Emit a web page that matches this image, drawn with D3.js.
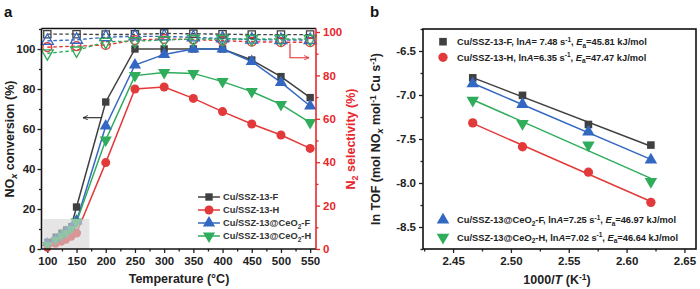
<!DOCTYPE html>
<html><head><meta charset="utf-8">
<script src="https://cdn.jsdelivr.net/npm/d3@7"></script>
<style>
body{margin:0;background:#fff}
svg{display:block}
text{font-family:"Liberation Sans",Arial,sans-serif;font-weight:bold}
</style>
</head><body><svg id="c" width="700" height="289"></svg>
<script>
// ---------- Panel a data ----------
const convTemps = [100,114,124,132,141,150,200,250,300,350,400,450,500,550];
const convF   = [3.7,6.2,8.2,9.8,11.5,21,73.5,100,100,100,100,94.5,86.2,75.7];
const convH   = [0.5,2.5,3.5,4.5,6,8,43.2,80,81,75.3,68.7,62.5,57,50.3];
const convCeF = [3,5,7,9,11,14,61.5,92,97.3,100,100,93.7,83.3,71.5];
const convCeH = [2,4.5,6.5,8,10,13.5,54.5,86.7,88.2,87.8,83.7,78.7,72.3,63.2];
const selTemps = [100,150,200,250,300,350,400,450,500,550];
const selF   = [99,99,98.8,98.9,99.3,99.2,99,98.8,98.8,98.8];
const selCeF = [95.9,96.4,97.6,98,98,97.5,97,96.5,96.3,96.3];
const selH   = [93,93.5,94,96.3,96.8,96.5,96,95.5,95.3,95.3];
const selCeH = [90.2,91.5,95.5,95.8,96.3,96.8,96.8,96.8,96.8,96.8];
const seriesNames = ["Cu/SSZ-13-F","Cu/SSZ-13-H","Cu/SSZ-13@CeO2-F","Cu/SSZ-13@CeO2-H"];
const tempTicks = [100,150,200,250,300,350,400,450,500,550];
const convTicks = [0,20,40,60,80,100];
const selTicks = [0,20,40,60,80,100];

// ---------- Panel b data ----------
const invT  = [2.467,2.510,2.567,2.621];
const lnF   = [-6.805,-7.004,-7.335,-7.569];
const lnH   = [-7.317,-7.588,-7.877,-8.220];
const lnCeF = [-6.872,-7.106,-7.419,-7.738];
const lnCeH = [-7.061,-7.324,-7.569,-7.983];
const lnAvals = ["7.48","6.35","7.25","7.02"];
const EaVals  = ["45.81","47.47","46.97","46.64"];
const invTTicks = [2.45,2.50,2.55,2.60,2.65];
const lnTicks = [-8.5,-8.0,-7.5,-7.0,-6.5];

const colors = ["#404040","#e23a3a","#3368c2","#2fac5c"];
const redAxis = "#e8272c";
const shapes = ["square","circle","tri","itri"];

const svg = d3.select("#c");

function sym(shape, size){
  if(shape==="square") return d3.symbol().type(d3.symbolSquare).size(size*0.85)();
  if(shape==="circle") return d3.symbol().type(d3.symbolCircle).size(size)();
  return d3.symbol().type(d3.symbolTriangle).size(size)();
}
function marker(g, shape, x, y, color, size, hollow){
  const p = g.append("path").attr("d", sym(shape,size))
    .attr("transform", `translate(${x},${y})` + (shape==="itri"?" rotate(180)":""));
  if(hollow) p.attr("fill","#fff").attr("fill-opacity",0).attr("stroke",color).attr("stroke-width",1.3);
  else p.attr("fill",color);
  return p;
}

// ================= Panel a =================
const aL=41.5, aR=316, aT=28.5, aB=249;
const xA = d3.scaleLinear().domain([90,560]).range([aL,aR]);
const yL = d3.scaleLinear().domain([0,110]).range([aB,29]);
const yR = d3.scaleLinear().domain([0,100]).range([aB,32]);

const pa = svg.append("g");
function styleAxis(g, color, fs){
  g.select(".domain").remove();
  g.selectAll("line").attr("stroke",color).attr("stroke-width",1.3);
  g.selectAll("text").attr("fill",color).style("font-size",fs+"px");
}
pa.append("g").attr("transform",`translate(0,${aB})`)
  .call(d3.axisBottom(xA).tickValues(tempTicks).tickSize(4).tickPadding(4))
  .call(g=>styleAxis(g,"#222",11.5));
pa.append("g").attr("transform",`translate(0,${aB})`)
  .call(d3.axisBottom(xA).tickValues(tempTicks.slice(0,-1).map(d=>d+25)).tickSize(2.5).tickFormat(""))
  .call(g=>styleAxis(g,"#222",11.5));
pa.append("g").attr("transform",`translate(${aL},0)`)
  .call(d3.axisLeft(yL).tickValues(convTicks).tickSize(4).tickPadding(2))
  .call(g=>styleAxis(g,"#222",11.5));
pa.append("g").attr("transform",`translate(${aL},0)`)
  .call(d3.axisLeft(yL).tickValues(convTicks.map(d=>d+10)).tickSize(2.5).tickFormat(""))
  .call(g=>styleAxis(g,"#222",11.5));
pa.append("g").attr("transform",`translate(${aR},0)`)
  .call(d3.axisRight(yR).tickValues(selTicks).tickSize(4).tickPadding(3))
  .call(g=>styleAxis(g,redAxis,11.5));
pa.append("g").attr("transform",`translate(${aR},0)`)
  .call(d3.axisRight(yR).tickValues(selTicks.slice(0,-1).map(d=>d+10)).tickSize(2.5).tickFormat(""))
  .call(g=>styleAxis(g,redAxis,11.5));

const convData=[convF,convH,convCeF,convCeH];
const selData=[selF,selH,selCeF,selCeH];
const plotA = pa.append("g");
[0,1,2,3].forEach(i=>{
  const pts = convTemps.map((t,j)=>[xA(t),yL(convData[i][j])]);
  plotA.append("path").attr("d",d3.line()(pts)).attr("fill","none")
    .attr("stroke",colors[i]).attr("stroke-width",1.5);
});
[0,1,2,3].forEach(i=>{
  convTemps.forEach((t,j)=>{
    const low = t<150;
    marker(plotA, shapes[i], xA(t), yL(convData[i][j]), colors[i], low?44:64, false);
  });
});
[0,1,2,3].forEach(i=>{
  const pts = selTemps.map((t,j)=>[xA(t),yR(selData[i][j])]);
  plotA.append("path").attr("d",d3.line()(pts)).attr("fill","none")
    .attr("stroke",colors[i]).attr("stroke-width",1.4).attr("stroke-dasharray","3.5,2.5");
});
[0,1,2,3].forEach(i=>{
  selTemps.forEach((t,j)=>{
    marker(plotA, shapes[i], xA(t), yR(selData[i][j]), colors[i], 62, true);
  });
});
pa.append("rect").attr("x",xA(93)).attr("y",yL(15)).attr("width",xA(172)-xA(93)).attr("height",yL(0)-yL(15))
  .attr("fill","#d4d4d4").attr("fill-opacity",0.6);

pa.append("line").attr("x1",aL).attr("x2",aR).attr("y1",aT).attr("y2",aT).attr("stroke","#111").attr("stroke-width",1.6);
pa.append("line").attr("x1",aL).attr("x2",aL).attr("y1",aT).attr("y2",aB).attr("stroke","#111").attr("stroke-width",1.6);
pa.append("line").attr("x1",aL).attr("x2",aR).attr("y1",aB).attr("y2",aB).attr("stroke","#111").attr("stroke-width",1.6);
pa.append("line").attr("x1",aR).attr("x2",aR).attr("y1",aT).attr("y2",aB).attr("stroke",redAxis).attr("stroke-width",1.6);

const defs = svg.append("defs");
defs.append("marker").attr("id","arrK").attr("viewBox","0 0 10 10").attr("refX",9).attr("refY",5)
  .attr("markerWidth",5).attr("markerHeight",5).attr("orient","auto-start-reverse")
  .append("path").attr("d","M0,1 L9,5 L0,9").attr("fill","none").attr("stroke","#222").attr("stroke-width",1.5);
defs.append("marker").attr("id","arrR").attr("viewBox","0 0 10 10").attr("refX",9).attr("refY",5)
  .attr("markerWidth",5).attr("markerHeight",5).attr("orient","auto")
  .append("path").attr("d","M0,1 L9,5 L0,9").attr("fill","none").attr("stroke",redAxis).attr("stroke-width",1.5);
pa.append("line").attr("x1",102).attr("y1",117.7).attr("x2",83).attr("y2",117.7)
  .attr("stroke","#222").attr("stroke-width",1.1).attr("marker-end","url(#arrK)");
pa.append("path").attr("d","M290,43.5 L290,57.7 L309,57.7").attr("fill","none")
  .attr("stroke",redAxis).attr("stroke-width",1.1).attr("marker-end","url(#arrR)");

const legY=[197,210,223,236];
seriesNames.forEach((n,i)=>{
  const g=pa.append("g");
  g.append("line").attr("x1",198).attr("x2",220).attr("y1",legY[i]).attr("y2",legY[i]).attr("stroke",colors[i]).attr("stroke-width",1.5);
  marker(g, shapes[i], 209, legY[i], colors[i], 64, false);
  const t=g.append("text").attr("x",223).attr("y",legY[i]+3.4).attr("fill","#333").style("font-size","9.3px");
  if(n.includes("CeO2")){
    const parts=n.split("CeO2");
    t.append("tspan").text(parts[0]+"CeO");
    t.append("tspan").text("2").attr("dy",2.5).style("font-size","6.5px");
    t.append("tspan").text(parts[1]).attr("dy",-2.5);
  } else t.text(n);
});

pa.append("text").attr("x",179).attr("y",283).attr("text-anchor","middle").attr("fill","#222").style("font-size","12.5px").text("Temperature (°C)");
const yl = pa.append("text").attr("transform","translate(13.5,139) rotate(-90)").attr("text-anchor","middle").attr("fill","#222").style("font-size","12.5px");
yl.append("tspan").text("NO");
yl.append("tspan").text("x").attr("dy",3).style("font-size","9px").style("font-style","italic");
yl.append("tspan").text(" conversion (%)").attr("dy",-3);
const yr = pa.append("text").attr("transform","translate(355,139) rotate(-90)").attr("text-anchor","middle").attr("fill",redAxis).style("font-size","12.5px");
yr.append("tspan").text("N");
yr.append("tspan").text("2").attr("dy",3).style("font-size","9px");
yr.append("tspan").text(" selectivity (%)").attr("dy",-3);
svg.append("text").attr("x",4).attr("y",17).attr("fill","#111").style("font-size","15px").text("a");
svg.append("text").attr("x",370).attr("y",17).attr("fill","#111").style("font-size","15px").text("b");

// ================= Panel b =================
const bL=423, bR=696, bT=29, bB=249;
const xB = d3.scaleLinear().domain([2.424,2.66]).range([bL,bR]);
const yB = d3.scaleLinear().domain([-8.75,-6.25]).range([bB,bT]);
const pb = svg.append("g");
pb.append("g").attr("transform",`translate(0,${bB})`)
  .call(d3.axisBottom(xB).tickValues(invTTicks).tickSize(4).tickPadding(4).tickFormat(d3.format(".2f")))
  .call(g=>styleAxis(g,"#222",11.5));
pb.append("g").attr("transform",`translate(0,${bB})`)
  .call(d3.axisBottom(xB).tickValues([2.425,2.475,2.525,2.575,2.625]).tickSize(2.5).tickFormat(""))
  .call(g=>styleAxis(g,"#222",11.5));
pb.append("g").attr("transform",`translate(${bL},0)`)
  .call(d3.axisLeft(yB).tickValues(lnTicks).tickSize(4).tickPadding(3).tickFormat(d3.format(".1f")))
  .call(g=>styleAxis(g,"#222",11.5));
pb.append("g").attr("transform",`translate(${bL},0)`)
  .call(d3.axisLeft(yB).tickValues([-8.75,-8.25,-7.75,-7.25,-6.75,-6.25]).tickSize(2.5).tickFormat(""))
  .call(g=>styleAxis(g,"#222",11.5));
pb.selectAll("text").each(function(){ const t=d3.select(this); t.text(t.text().replace("\u2212","-")); });

const lnData=[lnF,lnH,lnCeF,lnCeH];
[0,1,2,3].forEach(i=>{
  const ys=lnData[i];
  const mx=d3.mean(invT), my=d3.mean(ys);
  const b=d3.sum(invT.map((x,j)=>(x-mx)*(ys[j]-my)))/d3.sum(invT.map(x=>(x-mx)*(x-mx)));
  const a=my-b*mx;
  const x0=invT[0], x1=invT[invT.length-1];
  pb.append("line").attr("x1",xB(x0)).attr("y1",yB(a+b*x0)).attr("x2",xB(x1)).attr("y2",yB(a+b*x1))
    .attr("stroke",colors[i]).attr("stroke-width",1.5);
});
[0,1,2,3].forEach(i=>{
  invT.forEach((x,j)=>marker(pb, shapes[i], xB(x), yB(lnData[i][j]), colors[i], 68, false));
});
pb.append("rect").attr("x",bL).attr("y",bT).attr("width",bR-bL).attr("height",bB-bT)
  .attr("fill","none").attr("stroke","#111").attr("stroke-width",1.6);

const legBY=[41.7,57.3,220,237.3];
[0,1,2,3].forEach((i,k)=>{
  marker(pb, shapes[i], 443, legBY[k], colors[i], 68, false);
  const t=pb.append("text").attr("x",457).attr("y",legBY[k]+3.3).attr("fill","#222").style("font-size","9.3px");
  const n=seriesNames[i];
  if(n.includes("CeO2")){
    const parts=n.split("CeO2");
    t.append("tspan").text(parts[0]+"CeO");
    t.append("tspan").text("2").attr("dy",2.5).style("font-size","6.5px");
    t.append("tspan").text(parts[1]+", ln").attr("dy",-2.5);
  } else t.append("tspan").text(n+", ln");
  t.append("tspan").text("A").style("font-style","italic");
  t.append("tspan").text((i===0?"= ":"=")+lnAvals[i]+" s");
  t.append("tspan").text("-1").attr("dy",-3.5).style("font-size","6.5px");
  t.append("tspan").text(", ").attr("dy",3.5);
  t.append("tspan").text("E").style("font-style","italic");
  t.append("tspan").text("a").attr("dy",2.5).style("font-size","6.5px");
  t.append("tspan").text("="+EaVals[i]+" kJ/mol").attr("dy",-2.5);
});

const xlb = pb.append("text").attr("x",557).attr("y",284).attr("text-anchor","middle").attr("fill","#222").style("font-size","12.5px");
xlb.append("tspan").text("1000/");
xlb.append("tspan").text("T").style("font-style","italic");
xlb.append("tspan").text(" (K");
xlb.append("tspan").text("-1").attr("dy",-4.5).style("font-size","8.5px");
xlb.append("tspan").text(")").attr("dy",4.5);
const ylb = pb.append("text").attr("transform","translate(380,139) rotate(-90)").attr("text-anchor","middle").attr("fill","#222").style("font-size","12.5px");
ylb.append("tspan").text("ln TOF (mol NO");
ylb.append("tspan").text("x").attr("dy",3).style("font-size","9px").style("font-style","italic");
ylb.append("tspan").text(" mol").attr("dy",-3);
ylb.append("tspan").text("-1").attr("dy",-4.5).style("font-size","8.5px");
ylb.append("tspan").text(" Cu s").attr("dy",4.5);
ylb.append("tspan").text("-1").attr("dy",-4.5).style("font-size","8.5px");
ylb.append("tspan").text(")").attr("dy",4.5);
</script>
</body></html>
